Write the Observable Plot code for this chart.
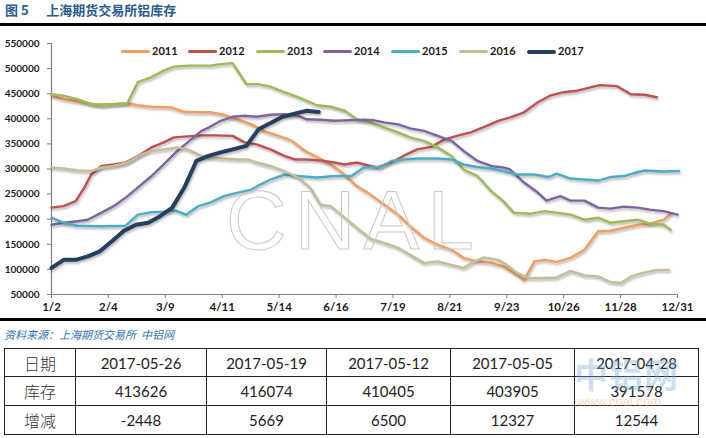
<!DOCTYPE html>
<html>
<head>
<meta charset="utf-8">
<script src="https://cdn.jsdelivr.net/npm/d3@7"></script>
<script src="https://cdn.jsdelivr.net/npm/@observablehq/plot@0.6"></script>
<style>
  html, body { margin: 0; padding: 0; background: #fff; }
  #wrap { position: relative; width: 706px; height: 438px; overflow: hidden; font-family: Lato, "Noto Sans", sans-serif; }
  #title { position: absolute; left: 5px; top: 2px; font: bold 13px "Noto Sans CJK SC", sans-serif; color: #2a5d8f; white-space: pre; line-height: 16px; }
  .rule { position: absolute; left: 0; width: 706px; background: #000; }
  #chart { position: absolute; left: 0; top: 30px; }
  #chart svg text { font-family: Lato, sans-serif; font-weight: bold; fill: #1a1a1a; }
  #chart svg g[aria-label="line"] path { filter: drop-shadow(1px 2px 1.2px rgba(0,0,0,0.28)); }
  #legend { position: absolute; top: 44px; left: 0; height: 14px; }
  .lg { position: absolute; top: 0; height: 14px; }
  .lg .sw { position: absolute; top: 6px; width: 29px; }
  .lg .tx { position: absolute; top: 0; font: bold 11px Lato, sans-serif; color: #1a1a1a; line-height: 14px; }
  #cnal { position: absolute; left: 226px; top: 170px; font: 84px "Liberation Sans", Arial, sans-serif; letter-spacing: 8px; color: transparent; -webkit-text-stroke: 1px #c9c9c9; pointer-events: none; line-height: 100px; }
  #source { position: absolute; left: 4px; top: 327px; font: italic 11px "Noto Sans CJK SC", sans-serif; color: #2e74b5; white-space: pre; line-height: 14px; }
  #tbl { position: absolute; left: 4px; top: 348px; border-collapse: collapse; table-layout: fixed; }
  #tbl td { border: 1px solid #222; text-align: center; padding: 0; font: 15px Lato, sans-serif; color: #222; }
  #tbl td.zh { font: 300 16px "Noto Sans CJK SC", sans-serif; color: #333; }
  #wm1 { position: absolute; left: 574px; top: 354px; font: bold 34px "Noto Sans CJK SC", sans-serif; color: rgba(120,170,220,0.4); pointer-events: none; line-height: 40px; letter-spacing: 1px; }
  #wm2 { position: absolute; left: 578px; top: 394px; font: 13px "Liberation Sans", sans-serif; color: rgba(230,170,120,0.45); pointer-events: none; }
</style>
</head>
<body>
<div id="wrap">
  <div id="title"></div>
  <div class="rule" style="top:23px;height:3px;"></div>
  <div id="chart"></div>
  <div id="cnal">CNAL</div>
  <div id="legend"></div>
  <div class="rule" style="top:318px;height:3px;"></div>
  <div id="source"></div>
  <table id="tbl"></table>
  <div id="wm1">中铝网</div>
  <div id="wm2">www.cnal.com</div>
</div>
<script>
// ---- text ----
const titleNo = "图 5";
const titleText = "上海期货交易所铝库存";
const sourceText = "资料来源：上海期货交易所  中铝网";

// ---- axes ----
const xTickDays = [0, 33, 66, 99, 132, 165, 198, 231, 264, 297, 330, 363];
const xTickLabels = ["1/2", "2/4", "3/9", "4/11", "5/14", "6/16", "7/19", "8/21", "9/23", "10/26", "11/28", "12/31"];
const yTicks = [50000, 100000, 150000, 200000, 250000, 300000, 350000, 400000, 450000, 500000, 550000];

// ---- series (day on axis, inventory in tonnes) ----
const years = ["2011", "2012", "2013", "2014", "2015", "2016", "2017"];
const colors = ["#f59d5a", "#c0504d", "#9bbb59", "#8064a2", "#4bacc6", "#c4bd97", "#243f60"];

const d2011 = [0,7,15,25,34,44,50,58,69,77,85,92,100,108,116,123,131,139,147,154,162,170,177,185,193,201,208,216,224,232,239,247,255,262,270,274,280,286,293,301,309,317,324,332,340,347,355,359];
const v2011 = [446000,439000,435000,429000,429000,431000,427000,424000,423000,414000,413000,413000,408000,399000,389000,376000,367000,357000,336000,324000,309000,289000,266000,249000,229000,209000,186000,163000,149000,139000,123000,116000,113000,106000,89000,79000,116000,119000,115000,123000,139000,176000,177000,183000,189000,191000,199000,211000];

const d2012 = [0,7,14,19,23,29,36,43,50,58,65,71,79,87,96,105,112,119,127,135,141,148,156,164,170,177,185,189,197,204,212,220,228,235,243,251,259,266,274,282,289,297,305,313,318,328,336,344,351];
const v2012 = [223000,226000,236000,263000,289000,306000,309000,313000,326000,343000,353000,363000,365000,367000,367000,366000,353000,349000,339000,326000,319000,319000,317000,313000,309000,313000,306000,303000,313000,326000,339000,344000,359000,366000,373000,384000,396000,403000,413000,433000,446000,453000,456000,463000,467000,465000,449000,448000,443000];

const d2013 = [0,7,15,23,29,36,44,50,58,65,71,79,87,92,98,105,113,120,127,135,143,150,154,162,170,177,185,193,201,208,216,224,232,239,247,255,262,268,278,286,293,301,309,317,324,332,340,347,355,359];
const v2013 = [449000,446000,439000,429000,426000,429000,431000,473000,483000,496000,504000,506000,506000,506000,509000,511000,469000,469000,464000,453000,443000,433000,427000,424000,416000,399000,393000,383000,373000,363000,356000,343000,326000,299000,286000,256000,236000,213000,211000,216000,213000,209000,199000,203000,193000,196000,199000,191000,189000,179000];

const d2014 = [0,7,15,21,29,36,43,50,58,65,73,81,87,92,98,105,112,119,127,135,143,148,156,164,172,181,187,193,201,208,216,224,232,239,247,255,262,266,274,282,287,295,301,309,317,324,332,340,347,355,363];
const v2014 = [189000,193000,196000,199000,213000,226000,243000,263000,286000,309000,336000,359000,376000,384000,396000,404000,406000,404000,408000,409000,406000,399000,398000,396000,397000,398000,397000,393000,389000,381000,376000,366000,356000,336000,316000,306000,303000,299000,273000,253000,237000,246000,237000,237000,223000,221000,225000,223000,219000,216000,209000];

const d2015 = [0,7,15,29,43,50,58,65,72,78,85,92,100,108,116,121,127,135,143,154,164,174,181,186,191,197,204,212,224,232,239,247,255,262,270,280,288,293,301,309,317,324,332,340,344,355,364];
const v2015 = [203000,193000,187000,186000,187000,209000,214000,215000,217000,209000,226000,233000,246000,253000,259000,269000,279000,289000,286000,283000,286000,286000,303000,304000,304000,316000,319000,321000,321000,319000,309000,304000,301000,296000,289000,289000,284000,291000,281000,279000,277000,284000,286000,294000,297000,295000,296000];

const d2016 = [0,7,15,23,29,36,44,52,58,65,73,79,87,92,100,108,114,119,127,135,143,150,156,162,170,177,185,193,201,208,216,224,232,239,245,251,259,264,270,276,284,293,301,309,317,324,330,336,344,351,358];
const v2016 = [303000,301000,297000,296000,303000,306000,313000,329000,336000,339000,343000,339000,326000,323000,321000,319000,319000,313000,306000,296000,283000,263000,229000,226000,203000,183000,161000,153000,143000,129000,113000,116000,109000,103000,116000,124000,119000,109000,93000,83000,83000,84000,97000,88000,86000,75000,73000,86000,94000,99000,99000];

const d2017 = [0,7,14,21,28,35,42,49,56,63,70,77,84,91,98,105,113,120,127,134,141,148,155];
const v2017 = [103000,119000,119000,126000,136000,156000,177000,189000,193000,206000,223000,263000,316000,326000,333000,339000,346000,379034,391578,403905,410405,416074,413626];

const seriesDays = [d2011, d2012, d2013, d2014, d2015, d2016, d2017];
const seriesVals = [v2011, v2012, v2013, v2014, v2015, v2016, v2017];

// ---- table ----
const tableDates = ["2017-05-26", "2017-05-19", "2017-05-12", "2017-05-05", "2017-04-28"];
const tableStock = ["413626", "416074", "410405", "403905", "391578"];
const tableChange = ["-2448", "5669", "6500", "12327", "12544"];
const tableHeads = ["日期", "库存", "增减"];

// ---- build ----
document.getElementById("title").textContent = titleNo + "      " + titleText;
document.getElementById("source").textContent = sourceText;

const lineMarks = years.map((yr, i) => {
  const data = seriesDays[i].map((d, j) => ({ d, v: seriesVals[i][j] }));
  return Plot.line(data, {
    x: "d", y: "v", stroke: colors[i],
    strokeWidth: yr === "2017" ? 4 : 2.4,
    strokeLinejoin: "round", strokeLinecap: "round"
  });
});

const labelByDay = new Map(xTickDays.map((d, i) => [d, xTickLabels[i]]));

const chart = Plot.plot({
  width: 706, height: 288,
  marginTop: 13, marginBottom: 24, marginLeft: 51, marginRight: 29,
  x: { domain: [0, 363], label: null },
  y: { domain: [50000, 550000], label: null },
  marks: [
    Plot.axisY({ ticks: yTicks, tickFormat: d => String(d), tickSize: 4, tickPadding: 8, fontSize: 10, stroke: "#7f7f7f", label: null }),
    Plot.axisX({ ticks: xTickDays, tickFormat: d => labelByDay.get(d), tickSize: 4, tickPadding: 4, fontSize: 11.5, stroke: "#7f7f7f", label: null }),
    Plot.ruleX([0], { stroke: "#7f7f7f", strokeWidth: 1.2 }),
    Plot.ruleY([50000], { stroke: "#7f7f7f", strokeWidth: 1.2 }),
    ...lineMarks
  ]
});
document.getElementById("chart").appendChild(chart);

// legend
const legendX = [121, 188, 256, 323, 391, 459, 527];
const legend = document.getElementById("legend");
years.forEach((yr, i) => {
  const item = document.createElement("div");
  item.className = "lg";
  item.style.left = legendX[i] + "px";
  const sw = document.createElement("div");
  sw.className = "sw";
  sw.style.background = colors[i];
  sw.style.height = (yr === "2017" ? 4 : 2.5) + "px";
  sw.style.top = (yr === "2017" ? 5.5 : 6) + "px";
  sw.style.borderRadius = "2px";
  const tx = document.createElement("div");
  tx.className = "tx";
  tx.style.left = "31px";
  tx.textContent = yr;
  item.appendChild(sw); item.appendChild(tx);
  legend.appendChild(item);
});

// table
const tbl = document.getElementById("tbl");
const colWidths = [71, 131, 120, 124, 124, 124];
const rowsData = [tableDates, tableStock, tableChange];
const rowHeights = [28, 29, 29];
const cg = document.createElement("colgroup");
colWidths.forEach(w => { const c = document.createElement("col"); c.style.width = w + "px"; cg.appendChild(c); });
tbl.appendChild(cg);
rowsData.forEach((row, r) => {
  const tr = document.createElement("tr");
  tr.style.height = rowHeights[r] + "px";
  const th = document.createElement("td");
  th.className = "zh"; th.textContent = tableHeads[r];
  tr.appendChild(th);
  row.forEach(v => { const td = document.createElement("td"); td.textContent = v; tr.appendChild(td); });
  tbl.appendChild(tr);
});
</script>
</body>
</html>
